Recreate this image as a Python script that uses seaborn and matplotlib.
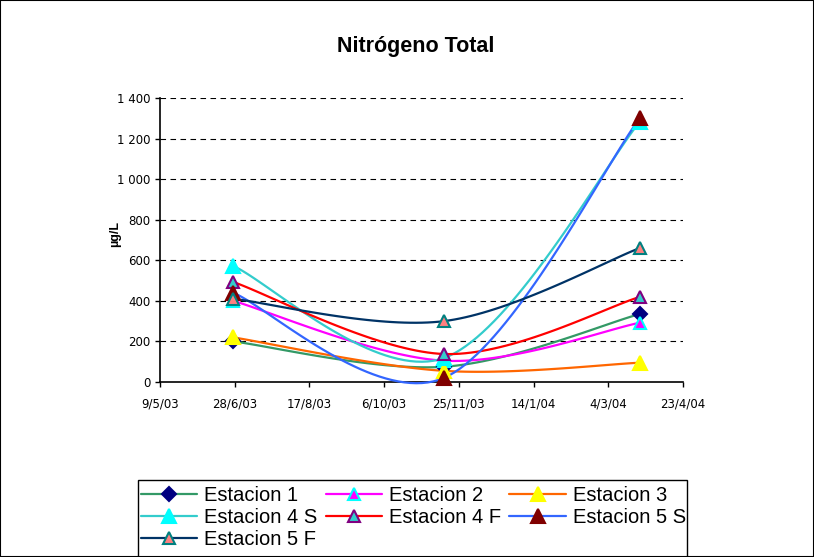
import numpy as np
import pandas as pd
import matplotlib
matplotlib.use("Agg")
import matplotlib.pyplot as plt
import matplotlib.dates as mdates
from matplotlib.lines import Line2D
from matplotlib.patches import Rectangle
import seaborn as sns

# ---------------- data ----------------
dates = ["2003-06-27", "2003-11-15", "2004-03-25"]
estacion_1 = [200, 75, 335]
estacion_2 = [400, 105, 292]
estacion_3 = [220, 55, 95]
estacion_4s = [572, 118, 1282]
estacion_4f = [493, 138, 419]
estacion_5s = [440, 20, 1300]
estacion_5f = [410, 300, 660]
series_names = ["Estacion 1", "Estacion 2", "Estacion 3", "Estacion 4 S",
                "Estacion 4 F", "Estacion 5 S", "Estacion 5 F"]
series_values = [estacion_1, estacion_2, estacion_3, estacion_4s,
                 estacion_4f, estacion_5s, estacion_5f]
x_ticks = ["2003-05-09", "2003-06-28", "2003-08-17", "2003-10-06",
           "2003-11-25", "2004-01-14", "2004-03-04", "2004-04-23"]
y_ticks = [0, 200, 400, 600, 800, 1000, 1200, 1400]

# styles
line_colors = ["#339966", "#FF00FF", "#FF6600", "#33CCCC", "#FF0000", "#3366FF", "#003366"]
markers = ["D", "^", "^", "^", "^", "^", "^"]
m_face = ["#000080", "#FF00FF", "#FFFF00", "#00FFFF", "#33CCCC", "#800000", "#FF8080"]
m_edge = ["#000080", "#00FFFF", "#FFFF00", "#00FFFF", "#800080", "#800000", "#008080"]
m_size = [7, 9, 10, 10, 9, 10, 9]


def smooth(xs, ys, n=40):
    """Catmull-Rom (Excel-like) smoothing through the given points."""
    P = np.column_stack([xs, ys]).astype(float)
    Pext = np.vstack([P[0], P, P[-1]])
    out = []
    for i in range(1, len(Pext) - 2):
        p0, p1, p2, p3 = Pext[i - 1], Pext[i], Pext[i + 1], Pext[i + 2]
        c1 = p1 + (p2 - p0) / 6.0
        c2 = p2 - (p3 - p1) / 6.0
        t = np.linspace(0, 1, n)[:, None]
        b = ((1 - t) ** 3) * p1 + 3 * ((1 - t) ** 2) * t * c1 + 3 * (1 - t) * t ** 2 * c2 + t ** 3 * p2
        out.append(b if i == len(Pext) - 3 else b[:-1])
    return np.vstack(out)


sns.set_theme(style="white")
plt.rcParams["font.family"] = ["Liberation Sans", "DejaVu Sans"]
plt.rcParams.update({"text.color": "black", "axes.labelcolor": "black",
                     "xtick.color": "black", "ytick.color": "black"})

fig = plt.figure(figsize=(8.14, 5.57), dpi=100)
ax = fig.add_axes([160 / 814, 1 - 382 / 557, 523 / 814, 284 / 557])

xd = mdates.date2num(pd.to_datetime(dates))
frames = []
for name, vals in zip(series_names, series_values):
    c = smooth(xd, vals)
    frames.append(pd.DataFrame({"x": c[:, 0], "y": c[:, 1], "serie": name}))
curves = pd.concat(frames, ignore_index=True)

sns.lineplot(data=curves, x="x", y="y", hue="serie", hue_order=series_names,
             palette=line_colors, sort=False, estimator=None, units="serie",
             linewidth=1.6, legend=False, ax=ax, zorder=3)
for ln in ax.get_lines():
    ln.set_clip_on(False)

for i, (name, vals) in enumerate(zip(series_names, series_values)):
    ax.plot(xd, vals, linestyle="none", marker=markers[i], markersize=m_size[i],
            markerfacecolor=m_face[i], markeredgecolor=m_edge[i],
            markeredgewidth=1.5, zorder=4, clip_on=False)

xt = mdates.date2num(pd.to_datetime(x_ticks))
ax.set_xlim(xt[0], xt[-1])
ax.set_ylim(0, 1400)
ax.set_xticks(xt)
ax.set_xticklabels([f"{d.day}/{d.month}/{d.strftime('%y')}" for d in pd.to_datetime(x_ticks)],
                   fontsize=8.5, family="DejaVu Sans", color="black")
ax.set_yticks(y_ticks)
ax.set_yticklabels([f"{v:,}".replace(",", " ") for v in y_ticks], fontsize=8.5,
                   family="DejaVu Sans", color="black")
ax.tick_params(axis="both", direction="out", length=3.5, width=1, color="black",
               bottom=True, left=True, pad=3.5)
ax.tick_params(axis="x", pad=8)

for v in y_ticks[1:]:
    ax.axhline(v, color="black", linewidth=0.8, linestyle=(0, (5, 4)), zorder=1)

for s in ["top", "right"]:
    ax.spines[s].set_visible(False)
for s in ["left", "bottom"]:
    ax.spines[s].set_color("black")
    ax.spines[s].set_linewidth(1.2)
    ax.spines[s].set_zorder(2)

ax.set_xlabel("")
ax.set_ylabel("µg/L", fontsize=9, fontweight="bold", color="black")
ax.yaxis.set_label_coords(-0.075, 0.52)

fig.text(416 / 814, 1 - 52 / 557, "Nitrógeno Total", ha="center", va="baseline",
         fontsize=15.5, fontweight="bold", color="black")

# legend: row-wise order as in the reference (matplotlib fills columns first)
handles = [Line2D([0], [0], color=line_colors[i], linewidth=1.6, marker=markers[i],
                  markersize=m_size[i], markerfacecolor=m_face[i],
                  markeredgecolor=m_edge[i], markeredgewidth=1.5)
           for i in range(len(series_names))]
order = [0, 3, 6, 1, 4, 2, 5]
leg = fig.legend([handles[i] for i in order], [series_names[i] for i in order],
                 loc="upper left", bbox_to_anchor=(141 / 814, 1 - 486 / 557), ncol=3,
                 fontsize=14.5, frameon=False, handlelength=2.8,
                 handletextpad=0.35, columnspacing=0.4, labelspacing=0.16,
                 borderpad=0.0, borderaxespad=0)
for t in leg.get_texts():
    t.set_color("black")

fig.patches.append(Rectangle((138 / 814, -0.02), (687 - 138) / 814, (557 - 480) / 557 + 0.02,
                             transform=fig.transFigure, fill=False,
                             edgecolor="black", linewidth=1.0))
fig.patches.append(Rectangle((0, 0), 1, 1, transform=fig.transFigure, fill=False,
                             edgecolor="black", linewidth=1.5))

fig.savefig("out.png", dpi=100)
